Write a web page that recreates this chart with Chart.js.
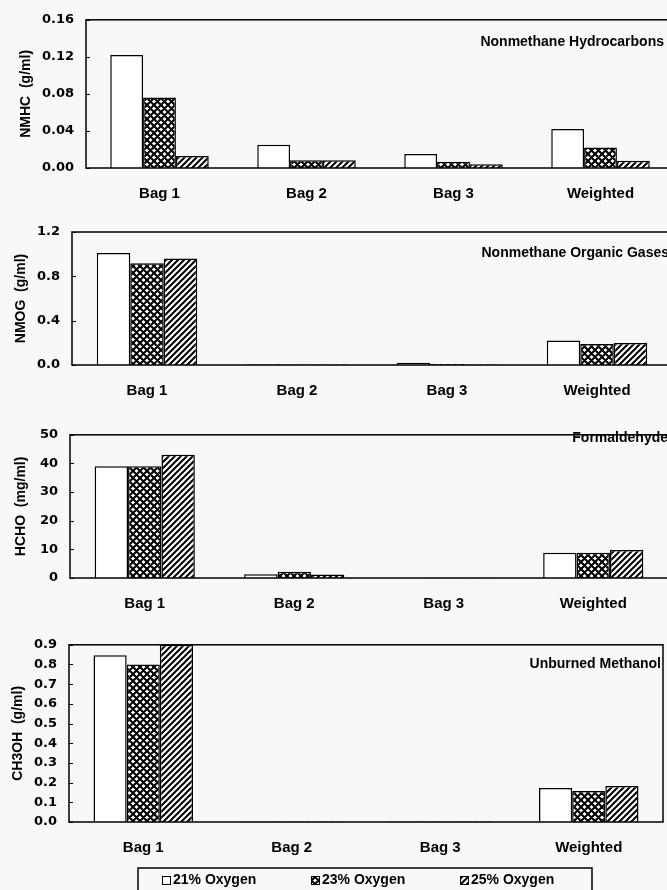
<!DOCTYPE html>
<html>
<head>
<meta charset="utf-8">
<script src="https://cdn.jsdelivr.net/npm/chart.js@4.4.1/dist/chart.umd.min.js"></script>
<style>
    html, body { margin: 0; padding: 0; background: #f8f8f8; width: 667px; height: 890px; overflow: hidden; position: relative; }
    canvas { position: absolute; left: 0; }
</style>
</head>
<body>
<canvas id="nmhc"></canvas>
<canvas id="nmog"></canvas>
<canvas id="hcho"></canvas>
<canvas id="meoh"></canvas>
<script>
// Categories and series
const bags = ['Bag 1', 'Bag 2', 'Bag 3', 'Weighted'];
const seriesNames = ['21% Oxygen', '23% Oxygen', '25% Oxygen'];

// Nonmethane hydrocarbons (g/ml)
const nmhc21 = [0.122, 0.025, 0.015, 0.042];
const nmhc23 = [0.076, 0.0085, 0.0067, 0.022];
const nmhc25 = [0.013, 0.0085, 0.004, 0.0078];
const nmhcTicks = ['0.00', '0.04', '0.08', '0.12', '0.16'];

// Nonmethane organic gases (g/ml)
const nmog21 = [1.01, 0.006, 0.02, 0.22];
const nmog23 = [0.918, 0.005, 0.008, 0.19];
const nmog25 = [0.96, 0.005, 0.005, 0.198];
const nmogTicks = ['0.0', '0.4', '0.8', '1.2'];

// Formaldehyde (mg/ml)
const hcho21 = [39.0, 1.3, 0.1, 8.8];
const hcho23 = [39.0, 2.2, 0.1, 8.8];
const hcho25 = [43.0, 1.2, 0.1, 9.8];
const hchoTicks = ['0', '10', '20', '30', '40', '50'];

// Unburned methanol (g/ml)
const meoh21 = [0.847, 0.002, 0.002, 0.173];
const meoh23 = [0.80, 0.002, 0.002, 0.158];
const meoh25 = [0.90, 0.002, 0.002, 0.183];
const meohTicks = ['0.0', '0.1', '0.2', '0.3', '0.4', '0.5', '0.6', '0.7', '0.8', '0.9'];

const SANS = '"Liberation Sans", Arial, sans-serif';
const TICKFONT = '"DejaVu Sans", sans-serif';

function crossPattern(ctx) {
    const s = 7;
    const c = document.createElement('canvas');
    c.width = c.height = s;
    const g = c.getContext('2d');
    g.fillStyle = '#fff';
    g.fillRect(0, 0, s, s);
    g.strokeStyle = '#000';
    g.lineWidth = 2.1;
    g.beginPath();
    g.moveTo(-1, -1); g.lineTo(s + 1, s + 1);
    g.moveTo(-1, s - 1); g.lineTo(1, s + 1);
    g.moveTo(s - 1, -1); g.lineTo(s + 1, 1);
    g.moveTo(-1, s + 1); g.lineTo(s + 1, -1);
    g.moveTo(-1, 1); g.lineTo(1, -1);
    g.moveTo(s - 1, s + 1); g.lineTo(s + 1, s - 1);
    g.stroke();
    return ctx.createPattern(c, 'repeat');
}

function hatchPattern(ctx) {
    const s = 6;
    const c = document.createElement('canvas');
    c.width = c.height = s;
    const g = c.getContext('2d');
    g.fillStyle = '#fff';
    g.fillRect(0, 0, s, s);
    g.strokeStyle = '#000';
    g.lineWidth = 2;
    g.beginPath();
    g.moveTo(-1, s + 1); g.lineTo(s + 1, -1);
    g.moveTo(-1, 1); g.lineTo(1, -1);
    g.moveTo(s - 1, s + 1); g.lineTo(s + 1, s - 1);
    g.stroke();
    return ctx.createPattern(c, 'repeat');
}

// frame, inward ticks and the panel name
const panelDecor = {
    id: 'panelDecor',
    afterDatasetsDraw(chart, args, opts) {
        const { ctx, chartArea: a } = chart;
        const y = chart.scales.y;
        ctx.save();
        ctx.strokeStyle = '#000';
        ctx.lineWidth = 1.5;
        ctx.strokeRect(a.left, a.top, a.right - a.left, a.bottom - a.top);
        ctx.lineWidth = 1;
        ctx.beginPath();
        y.ticks.forEach((t, i) => {
            const py = Math.round(y.getPixelForTick(i)) + 0.5;
            ctx.moveTo(a.left, py);
            ctx.lineTo(a.left + 4, py);
        });
        ctx.stroke();
        ctx.font = 'bold 14px ' + SANS;
        ctx.fillStyle = '#000';
        ctx.textAlign = 'right';
        ctx.textBaseline = 'middle';
        ctx.fillText(opts.name, opts.nameX, opts.nameY);
        ctx.restore();
    }
};

// boxed legend under the last panel
const boxLegend = {
    id: 'boxLegend',
    afterDraw(chart, args, opts) {
        if (!opts.show) return;
        const ctx = chart.ctx;
        ctx.save();
        ctx.strokeStyle = '#000';
        ctx.lineWidth = 1.5;
        ctx.strokeRect(opts.left, opts.top, opts.width, opts.height);
        ctx.font = 'bold 14px ' + SANS;
        ctx.textBaseline = 'middle';
        ctx.textAlign = 'left';
        chart.data.datasets.forEach((ds, i) => {
            const x = opts.firstX + i * opts.step;
            ctx.fillStyle = ds.backgroundColor;
            ctx.fillRect(x, opts.textY - 4, 8, 8);
            ctx.lineWidth = 1;
            ctx.strokeRect(x + 0.5, opts.textY - 3.5, 8, 8);
            ctx.fillStyle = '#000';
            ctx.fillText(ds.label, x + 11, opts.textY);
        });
        ctx.restore();
    }
};

function makeChart(id, cfg) {
    const canvas = document.getElementById(id);
    canvas.width = 680;
    canvas.height = cfg.height;
    canvas.style.top = cfg.top + 'px';
    const ctx = canvas.getContext('2d');

    return new Chart(ctx, {
        type: 'bar',
        data: {
            labels: bags,
            datasets: [
                { label: seriesNames[0], data: cfg.series[0], backgroundColor: '#ffffff', borderColor: '#000', borderWidth: 1.5 },
                { label: seriesNames[1], data: cfg.series[1], backgroundColor: crossPattern(ctx), borderColor: '#000', borderWidth: 1.5 },
                { label: seriesNames[2], data: cfg.series[2], backgroundColor: hatchPattern(ctx), borderColor: '#000', borderWidth: 1.5 }
            ]
        },
        options: {
            responsive: false,
            animation: false,
            datasets: { bar: { categoryPercentage: 0.67, barPercentage: 1.0 } },
            layout: { padding: { left: 0, top: cfg.padTop, bottom: cfg.padBottom, right: 680 - cfg.right } },
            plugins: {
                legend: { display: false },
                tooltip: { enabled: false },
                panelDecor: { name: cfg.name, nameX: cfg.nameX, nameY: cfg.nameY },
                boxLegend: cfg.legend || { show: false }
            },
            scales: {
                x: {
                    grid: { display: false, drawTicks: false },
                    border: { display: false },
                    ticks: { color: '#000', font: { family: SANS, size: 15, weight: 'bold' }, padding: 17, maxRotation: 0, autoSkip: false },
                    afterFit(scale) { scale.height = 40; }
                },
                y: {
                    min: 0,
                    max: parseFloat(cfg.ticks[cfg.ticks.length - 1]),
                    grid: { display: false, drawTicks: false },
                    border: { display: false },
                    afterBuildTicks(scale) { scale.ticks = cfg.ticks.map(v => ({ value: parseFloat(v) })); },
                    ticks: {
                        color: '#000',
                        font: { family: TICKFONT, size: 13, weight: 'bold' },
                        padding: 12,
                        callback: (v, i) => cfg.ticks[i]
                    },
                    title: {
                        display: true,
                        text: cfg.yTitle,
                        color: '#000',
                        font: { family: SANS, size: 14, weight: 'bold' },
                        padding: { top: cfg.titleX - 8.4, bottom: 0 }
                    },
                    afterFit(scale) { scale.width = cfg.axisX; }
                }
            }
        },
        plugins: [panelDecor, boxLegend]
    });
}

makeChart('nmhc', {
    top: 0, height: 217, padTop: 17, padBottom: 9, axisX: 86, right: 674, titleX: 26,
    series: [nmhc21, nmhc23, nmhc25], ticks: nmhcTicks, yTitle: 'NMHC  (g/ml)',
    name: 'Nonmethane Hydrocarbons', nameX: 664, nameY: 42
});

makeChart('nmog', {
    top: 210, height: 215, padTop: 22, padBottom: 20, axisX: 72, right: 672, titleX: 21,
    series: [nmog21, nmog23, nmog25], ticks: nmogTicks, yTitle: 'NMOG  (g/ml)',
    name: 'Nonmethane Organic Gases', nameX: 669, nameY: 43
});

makeChart('hcho', {
    top: 415, height: 215, padTop: 15, padBottom: 12, axisX: 70, right: 668, titleX: 21,
    series: [hcho21, hcho23, hcho25], ticks: hchoTicks, yTitle: 'HCHO  (mg/ml)',
    name: 'Formaldehyde', nameX: 668, nameY: 23
});

makeChart('meoh', {
    top: 625, height: 265, padTop: 17, padBottom: 28, axisX: 69, right: 663, titleX: 18,
    series: [meoh21, meoh23, meoh25], ticks: meohTicks, yTitle: 'CH3OH  (g/ml)',
    name: 'Unburned Methanol', nameX: 661, nameY: 39,
    legend: { show: true, left: 138, top: 243, width: 454, height: 30, firstX: 162, step: 149, textY: 255 }
});
</script>
</body>
</html>
